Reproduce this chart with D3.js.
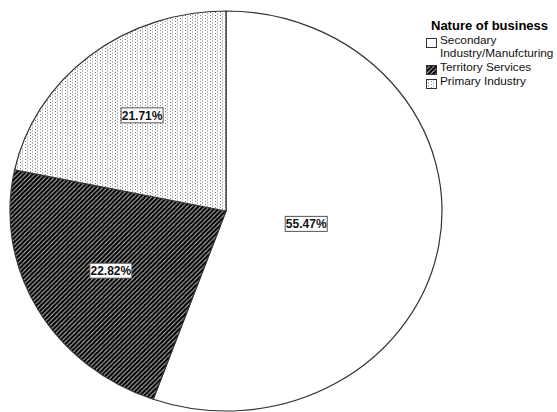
<!DOCTYPE html>
<html>
<head>
<meta charset="utf-8">
<script src="https://cdn.jsdelivr.net/npm/d3@7"></script>
<style>
  body { margin: 0; background: #fff; }
  text { font-family: "Liberation Sans", Arial, sans-serif; }
</style>
</head>
<body>
<div id="chart"></div>
<script>
// data
const categories = ["Secondary Industry/Manufcturing", "Territory Services", "Primary Industry"];
const legendLines = [["Secondary", "Industry/Manufcturing"], ["Territory Services"], ["Primary Industry"]];
const values = [55.47, 22.82, 21.71];
const labels = ["55.47%", "22.82%", "21.71%"];
const legendTitle = "Nature of business";

const width = 557, height = 412;
const cx = 226, cy = 211, rx = 216, ry = 200;

const svg = d3.select("#chart").append("svg")
  .attr("width", width)
  .attr("height", height);

const defs = svg.append("defs");

// diagonal stripes
const stripes = defs.append("pattern")
  .attr("id", "stripes")
  .attr("patternUnits", "userSpaceOnUse")
  .attr("width", 4.5).attr("height", 4.5);
stripes.append("rect").attr("width", 4.5).attr("height", 4.5).attr("fill", "#fff");
stripes.append("path")
  .attr("d", "M-1,1 L1,-1 M0,4.5 L4.5,0 M3.5,5.5 L5.5,3.5")
  .attr("stroke", "#000")
  .attr("stroke-width", 2.4);

// dots
const dots = defs.append("pattern")
  .attr("id", "dots")
  .attr("patternUnits", "userSpaceOnUse")
  .attr("width", 5).attr("height", 3);
dots.append("rect").attr("width", 5).attr("height", 3).attr("fill", "#fff");
dots.append("rect").attr("x", 0).attr("y", 0).attr("width", 1).attr("height", 1).attr("fill", "#777");
dots.append("rect").attr("x", 2).attr("y", 1.5).attr("width", 1).attr("height", 1).attr("fill", "#777");

const fills = ["#fff", "url(#stripes)", "url(#dots)"];

const pie = d3.pie().sort(null).value(d => d);
const arcs = pie(values);

// point on the ellipse, angle clockwise from top
function pt(a, k = 1) {
  return [cx + rx * k * Math.sin(a), cy - ry * k * Math.cos(a)];
}

function slicePath(d) {
  const p0 = pt(d.startAngle), p1 = pt(d.endAngle);
  const large = d.endAngle - d.startAngle > Math.PI ? 1 : 0;
  return `M${cx},${cy}L${p0[0]},${p0[1]}A${rx},${ry} 0 ${large} 1 ${p1[0]},${p1[1]}Z`;
}

svg.selectAll(".slice")
  .data(arcs)
  .enter()
  .append("path")
  .attr("class", "slice")
  .attr("d", slicePath)
  .attr("fill", (d, i) => fills[i])
  .attr("stroke", "#333")
  .attr("stroke-width", 1.2)
  .attr("stroke-linejoin", "round");

// labels at the sector centroid
const lab = svg.selectAll(".lab")
  .data(arcs)
  .enter()
  .append("g")
  .attr("class", "lab")
  .attr("transform", d => {
    const half = (d.endAngle - d.startAngle) / 2;
    const k = 2 * Math.sin(half) / (3 * half);
    const p = pt((d.startAngle + d.endAngle) / 2, k);
    return `translate(${p[0]},${p[1]})`;
  });

lab.append("rect")
  .attr("x", -21).attr("y", -7.5)
  .attr("width", 42).attr("height", 15)
  .attr("fill", "#fff")
  .attr("stroke", "#555")
  .attr("stroke-width", 1);

lab.append("text")
  .attr("text-anchor", "middle")
  .attr("dy", "0.36em")
  .style("font-size", "12px")
  .style("font-weight", "bold")
  .style("fill", "#111")
  .text((d, i) => labels[i]);

// legend
const legend = svg.append("g").attr("transform", "translate(426,0)");
legend.append("text")
  .attr("x", 5).attr("y", 30)
  .style("font-size", "13px")
  .style("font-weight", "bold")
  .text(legendTitle);

const itemY = [44, 71, 85];
const item = legend.selectAll(".item")
  .data(categories)
  .enter()
  .append("g")
  .attr("class", "item");

item.append("rect")
  .attr("x", 0.5)
  .attr("y", (d, i) => itemY[i] - 5.5)
  .attr("width", 10).attr("height", 9)
  .attr("fill", (d, i) => fills[i])
  .attr("stroke", "#333")
  .attr("stroke-width", 1);

item.append("text")
  .attr("x", 14)
  .attr("y", (d, i) => itemY[i])
  .style("font-size", "11.8px")
  .style("fill", "#111")
  .selectAll("tspan")
  .data((d, i) => legendLines[i])
  .enter()
  .append("tspan")
  .attr("x", 14)
  .attr("dy", (d, j) => j === 0 ? 0 : 12.5)
  .text(d => d);
</script>
</body>
</html>
